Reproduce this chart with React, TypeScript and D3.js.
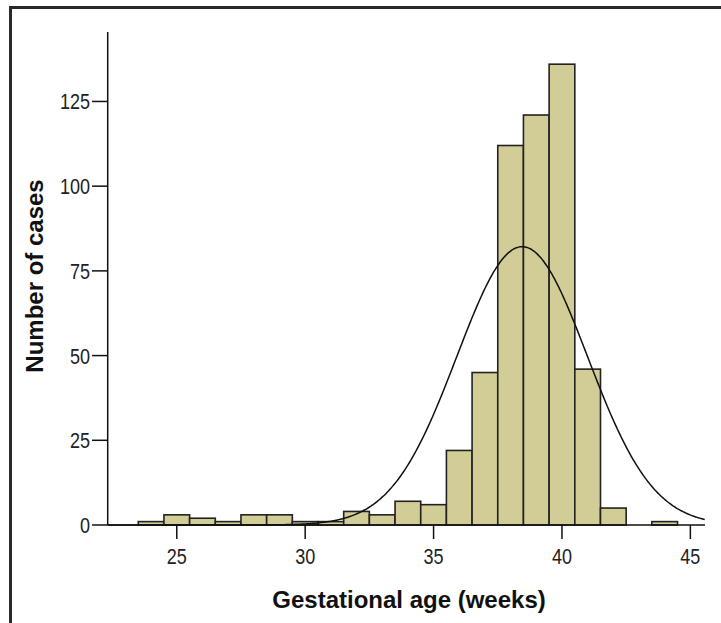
import * as d3 from 'd3'

// histogram bins (centre of each 1-week bin) and their counts
const weeks = [24, 25, 26, 27, 28, 29, 30, 31, 32, 33, 34, 35, 36, 37, 38, 39, 40, 41, 42, 43, 44]
const counts = [1, 3, 2, 1, 3, 3, 1, 1, 4, 3, 7, 6, 22, 45, 112, 121, 136, 46, 5, 0, 1]
const xTicks = [25, 30, 35, 40, 45]
const yTicks = [0, 25, 50, 75, 100, 125]
// fitted normal curve
const meanWeeks = 38.45
const sdWeeks = 2.54

const W = 721
const H = 623
const font = "'Liberation Sans', Arial, sans-serif"

export default function App() {
  const x = d3.scaleLinear().domain([22.31, 45.57]).range([107.7, 705])
  const y = d3.scaleLinear().domain([0, 145.5]).range([525, 32])

  const total = d3.sum(counts)
  const pdf = (v: number) =>
    (total / (sdWeeks * Math.sqrt(2 * Math.PI))) * Math.exp(-0.5 * ((v - meanWeeks) / sdWeeks) ** 2)
  const [x0, x1] = x.domain()
  const curvePts = d3.range(x0, x1 + 0.001, 0.05).map(v => [v, pdf(v)] as [number, number])
  const line = d3.line<[number, number]>()
    .x(d => x(d[0]))
    .y(d => y(d[1]))
    .curve(d3.curveBasis)

  const bars = weeks.map((w, i) => ({ w, c: counts[i] })).filter(d => d.c > 0)

  return (
    <svg width={W} height={H} style={{ position: 'absolute', left: 0, top: 0, background: '#fff' }}>
      {/* outer frame, cropped at right and bottom */}
      <rect x={10.5} y={7.5} width={W + 20} height={H + 20} fill="none" stroke="#2a2a2a" strokeWidth={3} />

      {bars.map(d => (
        <rect
          key={d.w}
          x={x(d.w - 0.5)}
          y={y(d.c)}
          width={x(d.w + 0.5) - x(d.w - 0.5)}
          height={y(0) - y(d.c)}
          fill="#d2cd96"
          stroke="#222"
          strokeWidth={1.6}
        />
      ))}

      <path d={line(curvePts) ?? ''} fill="none" stroke="#111" strokeWidth={1.5} />

      {/* y axis */}
      <line x1={x.range()[0]} x2={x.range()[0]} y1={y.range()[1]} y2={y(0)} stroke="#111" strokeWidth={1.5} />
      {yTicks.map(t => (
        <g key={t}>
          <line x1={92} x2={x.range()[0]} y1={y(t)} y2={y(t)} stroke="#111" strokeWidth={1.5} />
          <text transform={`translate(90, ${y(t)}) scale(0.82, 1)`} dy="0.36em" textAnchor="end"
            fontFamily={font} fontSize={22} fill="#222">{t}</text>
        </g>
      ))}

      {/* x axis */}
      <line x1={x.range()[0]} x2={x.range()[1]} y1={y(0)} y2={y(0)} stroke="#111" strokeWidth={1.5} />
      {xTicks.map(t => (
        <g key={t}>
          <line x1={x(t)} x2={x(t)} y1={y(0)} y2={y(0) + 14} stroke="#111" strokeWidth={1.5} />
          <text transform={`translate(${x(t)}, 564) scale(0.82, 1)`} textAnchor="middle"
            fontFamily={font} fontSize={22} fill="#222">{t}</text>
        </g>
      ))}

      <text x={409} y={608} textAnchor="middle" fontFamily={font} fontWeight="bold" fontSize={24} fill="#111">
        Gestational age (weeks)
      </text>
      <text transform="translate(43, 276) rotate(-90)" textAnchor="middle" fontFamily={font} fontWeight="bold" fontSize={24} fill="#111">
        Number of cases
      </text>
    </svg>
  )
}
